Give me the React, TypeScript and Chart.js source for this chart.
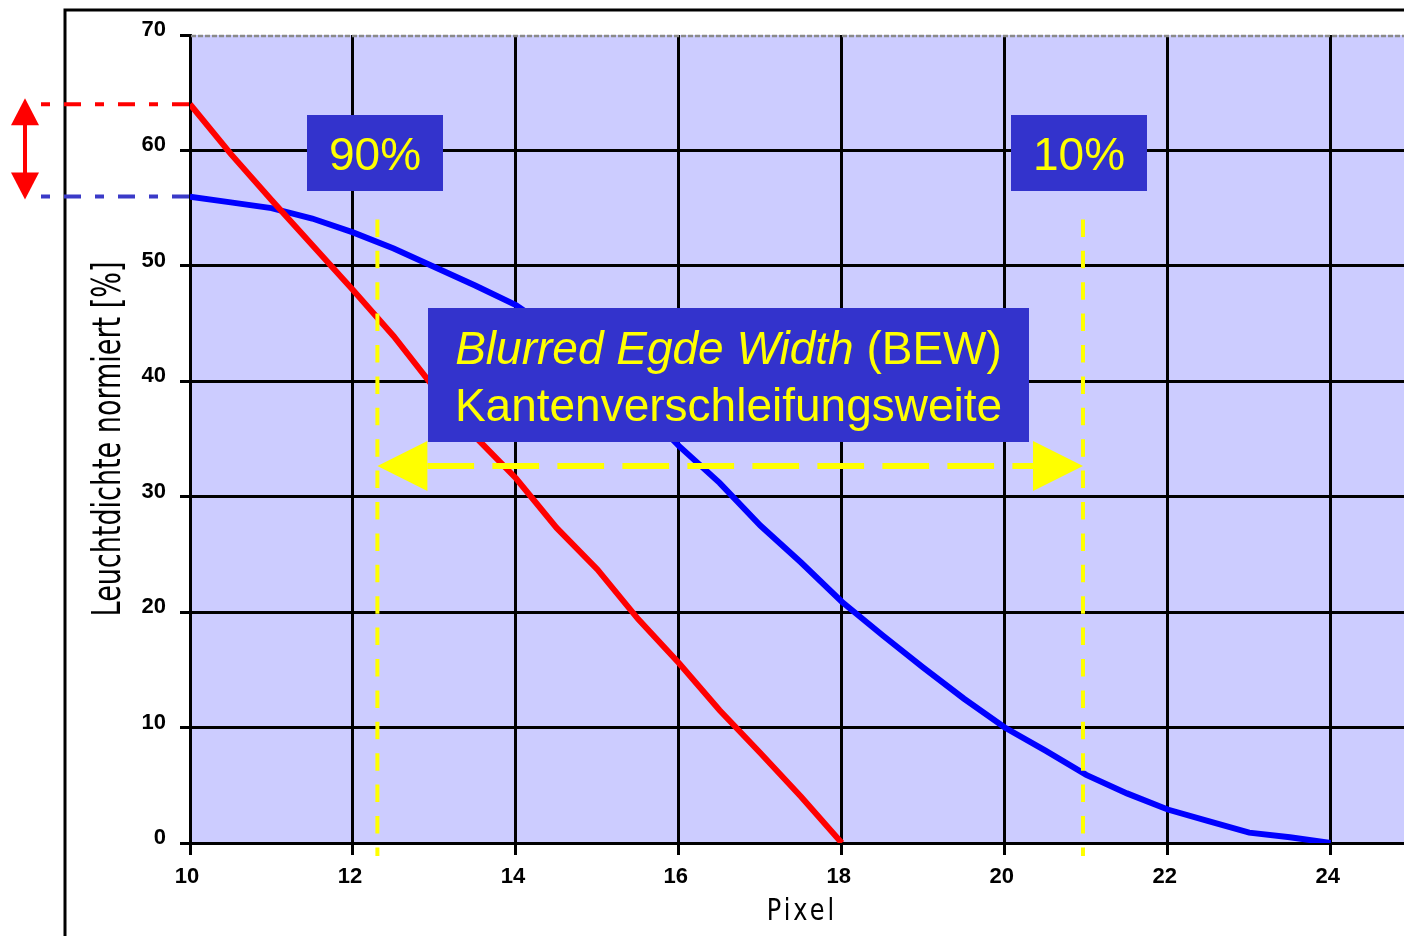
import React, { useEffect, useRef } from 'react';
import { Chart, registerables } from 'chart.js';

Chart.register(...registerables);

// ---- data ----
const redPixel = [10, 10.5, 11, 11.5, 12, 12.5, 13, 13.5, 14, 14.5, 15, 15.5, 16, 16.5, 17, 17.5, 18];
const redLuminance = [64, 59.7, 55.7, 51.8, 47.9, 43.9, 39.4, 35.2, 31.6, 27.3, 23.7, 19.4, 15.6, 11.5, 7.8, 4.0, 0];

const bluePixel = [10, 10.5, 11, 11.5, 12, 12.5, 13, 13.5, 14, 14.5, 15, 15.5, 16, 16.5, 17, 17.5, 18, 18.5, 19, 19.5, 20, 20.5, 21, 21.5, 22, 22.5, 23, 23.5, 24];
const blueLuminance = [56, 55.5, 55, 54.1, 52.9, 51.5, 49.9, 48.3, 46.6, 44.2, 41.3, 38.0, 34.4, 31.2, 27.5, 24.3, 20.9, 18.0, 15.2, 12.5, 10.0, 8.0, 5.9, 4.3, 2.9, 1.9, 0.9, 0.5, 0];

const xTickValues = [10, 12, 14, 16, 18, 20, 22, 24];
const yTickValues = [0, 10, 20, 30, 40, 50, 60, 70];

const marker90Pixel = 12.3;
const marker10Pixel = 20.96;

const xTitle = 'Pixel';
const yTitle = 'Leuchtdichte normiert [%]';
const label90 = '90%';
const label10 = '10%';
const bewItalic = 'Blurred Egde Width';
const bewPlain = ' (BEW)';
const bewLine2 = 'Kantenverschleifungsweite';

const BOX_BLUE = '#3333cc';
const YELLOW = '#ffff00';
const SANS = '"Liberation Sans", Arial, sans-serif';

function dashedLine(ctx: CanvasRenderingContext2D, x1: number, y1: number, x2: number, y2: number, dash: number[], color: string, width: number) {
  ctx.save();
  ctx.setLineDash(dash);
  ctx.strokeStyle = color;
  ctx.lineWidth = width;
  ctx.lineCap = 'butt';
  ctx.beginPath();
  ctx.moveTo(x1, y1);
  ctx.lineTo(x2, y2);
  ctx.stroke();
  ctx.restore();
}

function tri(ctx: CanvasRenderingContext2D, pts: number[][], color: string) {
  ctx.fillStyle = color;
  ctx.beginPath();
  ctx.moveTo(pts[0][0], pts[0][1]);
  for (let i = 1; i < pts.length; i++) ctx.lineTo(pts[i][0], pts[i][1]);
  ctx.closePath();
  ctx.fill();
}

const backgroundPlugin = {
  id: 'bg',
  beforeDraw(chart: any) {
    const { ctx, chartArea } = chart;
    ctx.save();
    ctx.fillStyle = '#ffffff';
    ctx.fillRect(0, 0, chart.width, chart.height);
    ctx.fillStyle = '#ccccff';
    ctx.fillRect(chartArea.left, chartArea.top, chartArea.right - chartArea.left, chartArea.bottom - chartArea.top);
    ctx.restore();
  },
};

const annotationPlugin = {
  id: 'annotations',
  afterDraw(chart: any) {
    const { ctx, chartArea } = chart;
    const xs = chart.scales.x;
    const ys = chart.scales.y;
    ctx.save();

    // gray top border
    dashedLine(ctx, chartArea.left + 1, chartArea.top + 1, chartArea.right, chartArea.top + 1, [5, 2], '#8a8a8a', 2.5);

    // outer frame
    ctx.strokeStyle = '#000';
    ctx.lineWidth = 3;
    ctx.setLineDash([]);
    ctx.beginPath();
    ctx.moveTo(65, 936);
    ctx.lineTo(65, 10);
    ctx.lineTo(1404, 10);
    ctx.stroke();

    // reference dashed lines at the start values
    const yRed = ys.getPixelForValue(redLuminance[0]);
    const yBlue = ys.getPixelForValue(blueLuminance[0]);
    dashedLine(ctx, 41, yRed, chartArea.left, yRed, [9, 14, 17, 14], '#ff0000', 4);
    dashedLine(ctx, 41, yBlue, chartArea.left, yBlue, [9, 14, 17, 14], '#3a3ac8', 4);

    // red double arrow
    const ax = 25;
    ctx.fillStyle = '#ff0000';
    ctx.fillRect(ax - 2, yRed + 18, 4, yBlue - yRed - 36);
    tri(ctx, [[ax, yRed - 6], [ax - 14, yRed + 21], [ax + 14, yRed + 21]], '#ff0000');
    tri(ctx, [[ax, yBlue + 3], [ax - 14, yBlue - 24], [ax + 14, yBlue - 24]], '#ff0000');

    // yellow vertical dashed lines
    const xL = xs.getPixelForValue(marker90Pixel);
    const xR = xs.getPixelForValue(marker10Pixel);
    dashedLine(ctx, xL, 219.4, xL, 856, [17.5, 13.9], YELLOW, 4);
    dashedLine(ctx, xR, 219.4, xR, 856, [17.5, 13.9], YELLOW, 4);

    // horizontal double arrow
    const yA = 466;
    dashedLine(ctx, xL + 50, yA, xR - 50, yA, [46.7, 18.3], YELLOW, 6);
    tri(ctx, [[xL, yA], [xL + 50, yA - 25], [xL + 50, yA + 25]], YELLOW);
    tri(ctx, [[xR, yA], [xR - 50, yA - 25], [xR - 50, yA + 25]], YELLOW);

    // 90% / 10% boxes
    ctx.fillStyle = BOX_BLUE;
    ctx.fillRect(307, 115, 136, 76);
    ctx.fillRect(1011, 115, 136, 76);
    ctx.fillStyle = YELLOW;
    ctx.font = `46px ${SANS}`;
    ctx.textAlign = 'center';
    ctx.textBaseline = 'alphabetic';
    ctx.fillText(label90, 375, 170);
    ctx.fillText(label10, 1079, 170);

    // BEW box
    ctx.fillStyle = BOX_BLUE;
    ctx.fillRect(428, 308, 601, 134);
    ctx.fillStyle = YELLOW;
    ctx.textAlign = 'left';
    ctx.font = `italic 46px ${SANS}`;
    const w1 = ctx.measureText(bewItalic).width;
    ctx.font = `46px ${SANS}`;
    const w2 = ctx.measureText(bewPlain).width;
    const cx = 728.5;
    const start = cx - (w1 + w2) / 2;
    ctx.font = `italic 46px ${SANS}`;
    ctx.fillText(bewItalic, start, 364);
    ctx.font = `46px ${SANS}`;
    ctx.fillText(bewPlain, start + w1, 364);
    ctx.textAlign = 'center';
    ctx.fillText(bewLine2, cx, 421);

    // axis titles
    ctx.fillStyle = '#000';
    ctx.save();
    ctx.translate(105, (chartArea.top + chartArea.bottom) / 2);
    ctx.rotate(-Math.PI / 2);
    ctx.scale(1, 1.45);
    ctx.font = '27px "DejaVu Sans", sans-serif';
    ctx.textAlign = 'center';
    ctx.textBaseline = 'alphabetic';
    ctx.fillText(yTitle, 0, 10.3);
    ctx.restore();

    ctx.save();
    ctx.translate((chartArea.left + chartArea.right) / 2 + 5, 920);
    ctx.scale(1, 1.25);
    ctx.font = '24px "DejaVu Sans", sans-serif';
    (ctx as any).letterSpacing = '3px';
    ctx.textAlign = 'center';
    ctx.textBaseline = 'alphabetic';
    ctx.fillText(xTitle, 0, 0);
    ctx.restore();

    ctx.restore();
  },
};

export default function App() {
  const canvasRef = useRef<HTMLCanvasElement | null>(null);

  useEffect(() => {
    if (!canvasRef.current) return;
    const tickFont = { family: SANS, size: 22, weight: 'bold' as const };
    const chart = new Chart(canvasRef.current, {
      type: 'line',
      data: {
        datasets: [
          {
            label: 'rot',
            data: redPixel.map((x, i) => ({ x, y: redLuminance[i] })),
            borderColor: '#ff0000',
            backgroundColor: '#ff0000',
            borderWidth: 6,
            pointRadius: 0,
            tension: 0,
            fill: false,
          },
          {
            label: 'blau',
            data: bluePixel.map((x, i) => ({ x, y: blueLuminance[i] })),
            borderColor: '#0000ff',
            backgroundColor: '#0000ff',
            borderWidth: 6,
            pointRadius: 0,
            tension: 0,
            fill: false,
          },
        ],
      },
      options: {
        animation: false,
        responsive: false,
        maintainAspectRatio: false,
        layout: { padding: { top: 35, left: 0, right: 0, bottom: 0 } },
        plugins: { legend: { display: false }, tooltip: { enabled: false } },
        scales: {
          x: {
            type: 'linear',
            min: 10,
            max: 24.9,
            afterFit: (s: any) => { s.height = 93; },
            afterBuildTicks: (s: any) => { s.ticks = xTickValues.map((v) => ({ value: v })); },
            ticks: {
              font: tickFont,
              color: '#000',
              padding: 9,
              labelOffset: -3,
              maxRotation: 0,
              autoSkip: false,
            },
            grid: {
              color: '#000',
              lineWidth: 3,
              tickLength: 12,
              tickColor: '#000',
              tickWidth: 3,
            },
            border: { color: '#000', width: 3 },
          },
          y: {
            type: 'linear',
            min: 0,
            max: 70,
            afterFit: (s: any) => { s.width = 190; },
            afterBuildTicks: (s: any) => { s.ticks = yTickValues.map((v) => ({ value: v })); },
            ticks: {
              font: tickFont,
              color: '#000',
              padding: 14,
              labelOffset: -5,
              autoSkip: false,
            },
            grid: {
              color: (c: any) => (c.tick && c.tick.value === 70 ? 'rgba(0,0,0,0)' : '#000'),
              lineWidth: 3,
              tickLength: 10,
              tickColor: '#000',
              tickWidth: 3,
            },
            border: { color: '#000', width: 3 },
          },
        },
      },
      plugins: [backgroundPlugin, annotationPlugin],
    });
    return () => chart.destroy();
  }, []);

  return (
    <div style={{ position: 'absolute', left: 0, top: 0, width: 1404, height: 936, overflow: 'hidden', background: '#fff' }}>
      <canvas ref={canvasRef} width={1404} height={936} style={{ display: 'block' }} />
    </div>
  );
}
